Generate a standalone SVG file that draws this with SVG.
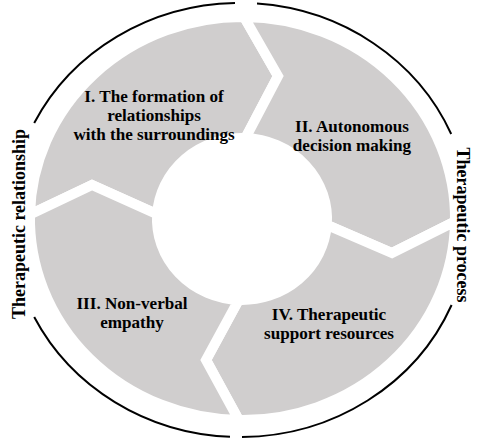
<svg xmlns="http://www.w3.org/2000/svg" width="485" height="440" viewBox="0 0 485 440">
<style>
.seg{fill:#d0cece;stroke:#ffffff;stroke-width:10;stroke-linejoin:miter;stroke-miterlimit:10}
.arc{fill:none;stroke:#000;stroke-width:2}
.t{font-family:"Liberation Serif","Times New Roman",serif;font-weight:bold;font-size:16px;fill:#000;text-anchor:middle}
.lab{font-family:"Liberation Serif","Times New Roman",serif;font-weight:bold;font-size:18px;fill:#000;text-anchor:middle}
</style>
<rect width="485" height="440" fill="#fff"/>
<g id="seg-1">
<path class="seg" d="M30,214.4 A212.5,201.5 0 0 1 244.1,17 L278,76 L245.4,138.1 A85,81 0 0 0 157.1,214.2 L92,185 Z"/>
<text class="t" transform="translate(154,0) scale(1.07,1)"><tspan x="0" y="102">I. The formation of</tspan><tspan x="0" y="121">relationships</tspan><tspan x="0" y="140">with the surroundings</tspan></text>
</g>
<g id="seg-2">
<path class="seg" d="M244.1,17 A212.5,201.5 0 0 1 455,221.5 L392,253 L326.8,224.9 A85,81 0 0 0 245.4,138.1 L278,76 Z"/>
<text class="t" transform="translate(352,0) scale(1.07,1)"><tspan x="0" y="132">II. Autonomous</tspan><tspan x="0" y="151.5">decision making</tspan></text>
</g>
<g id="seg-4">
<path class="seg" d="M455,221.5 A212.5,201.5 0 0 1 238.8,420 L206,360 L238.7,299.9 A85,81 0 0 0 326.8,224.9 L392,253 Z"/>
<text class="t" transform="translate(329,0) scale(1.07,1)"><tspan x="0" y="320">IV. Therapeutic</tspan><tspan x="0" y="339">support resources</tspan></text>
</g>
<g id="seg-3">
<path class="seg" d="M238.8,420 A212.5,201.5 0 0 1 30,214.4 L92,185 L157.1,214.2 A85,81 0 0 0 238.7,299.9 L206,360 Z"/>
<text class="t" transform="translate(132,0) scale(1.07,1)"><tspan x="0" y="309.5">III. Non-verbal</tspan><tspan x="0" y="328.5">empathy</tspan></text>
</g>
<g id="label-relationship">
<path class="arc" d="M34.2,123 A230,217 0 0 1 235,3.05"/>
<path class="arc" d="M230,436.8 A230,217 0 0 1 34.2,317"/>
<text class="lab" transform="translate(25,224) scale(1.07,1) rotate(-90)" x="0" y="0">Therapeutic relationship</text>
</g>
<g id="label-process">
<path class="arc" d="M257,3.6 A230,217 0 0 1 451.2,134"/>
<path class="arc" d="M451.6,305 A230,217 0 0 1 242,437"/>
<text class="lab" transform="translate(457,225) scale(1.07,1) rotate(90)" x="0" y="0">Therapeutic process</text>
</g>
</svg>
